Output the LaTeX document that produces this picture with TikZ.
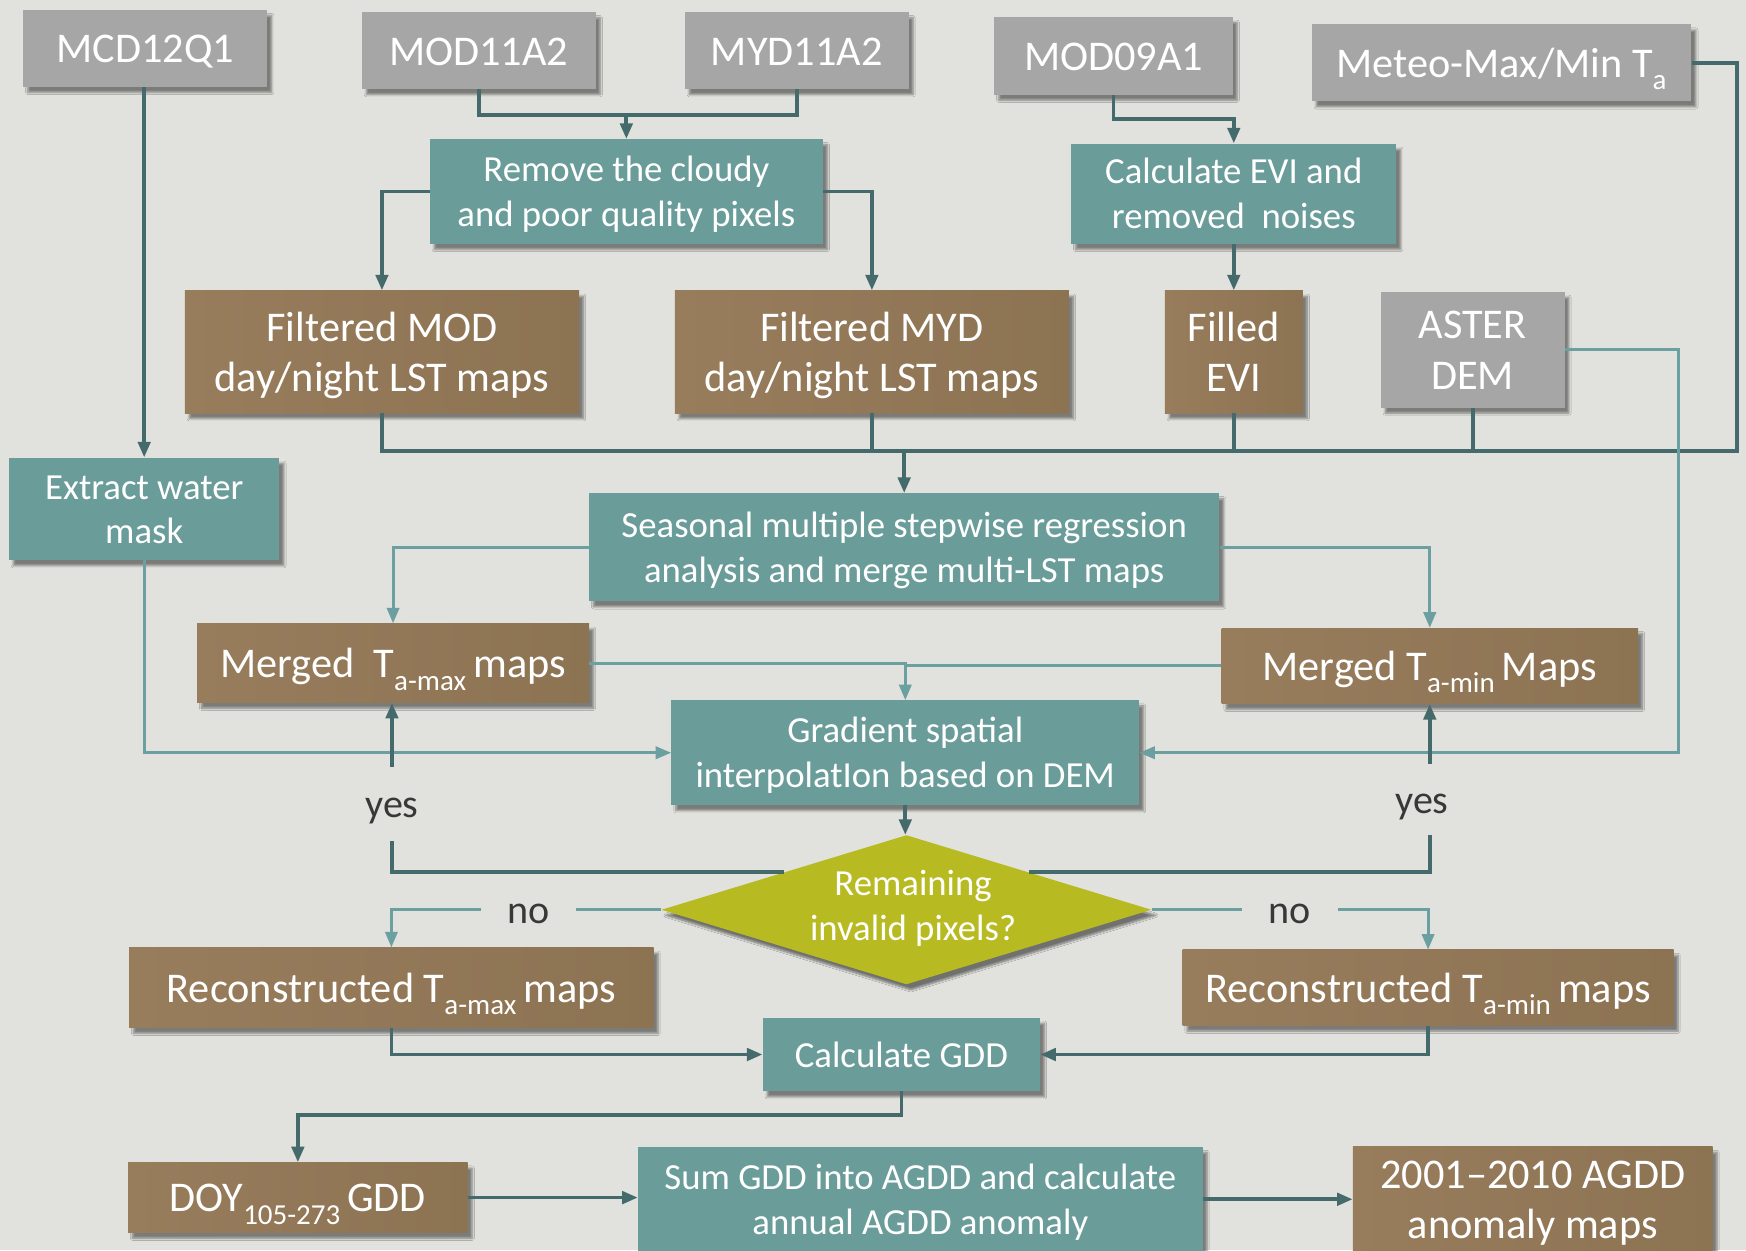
\documentclass[tikz,border=0pt]{standalone}
\usepackage{fontspec}
\setmainfont{Carlito}
\usetikzlibrary{shapes.geometric,arrows.meta,shadows.blur}
\definecolor{bgc}{HTML}{E1E2DD}
\definecolor{grayc}{HTML}{A6A6A6}
\definecolor{tealc}{HTML}{6A9D9A}
\definecolor{brownc}{HTML}{8C7352}
\definecolor{brownL}{HTML}{987D5D}
\definecolor{olivec}{HTML}{B8BA22}
\definecolor{dkc}{HTML}{456A6B}
\definecolor{ltc}{HTML}{6C9F9F}
\definecolor{lblc}{HTML}{383838}
\newcommand{\tsub}[1]{\raisebox{-0.3em}[0pt][0pt]{\fontsize{26}{26}\selectfont #1}}
\newcommand{\fs}{\rule{0pt}{0.98em}}
\begin{document}
\begin{tikzpicture}[x=1pt,y=-1pt,
  wh/.style 2 args={minimum width=#1pt, minimum height=#2pt},
  txt/.style={inner sep=0pt, align=center,
    execute at begin node={\fs},
    execute at end node={\rule[-0.3em]{0pt}{0pt}}},
  base/.style={rectangle, txt, text=white,
    blur shadow={shadow xshift=4pt, shadow yshift=-5pt, shadow opacity=45, shadow blur steps=6}},
  gbox/.style={base, fill=grayc, font=\fontsize{38}{45}\selectfont},
  tbox/.style={base, fill=tealc, font=\fontsize{33}{40}\selectfont},
  bbox/.style={base, left color=brownL, right color=brownc, font=\fontsize{38}{45}\selectfont},
  lbl/.style={txt, text=lblc, font=\fontsize{36}{40}\selectfont},
  dk/.style={draw=dkc, line width=3.4pt},
  lt/.style={draw=ltc, line width=2.8pt},
  arr/.style={-{Triangle[length=14pt,width=11pt]}}
]
\useasboundingbox (0,0) rectangle (1568,1123);
\fill[bgc] (0,0) rectangle (1568,1123);
\clip (0,0) rectangle (1568,1123);

% top row
\node[gbox, wh={219}{69}] (mcd) at (130.5,43.5) {MCD12Q1};
\node[gbox, wh={210}{69}] (mod11) at (430,45.5) {MOD11A2};
\node[gbox, wh={201}{69}] (myd11) at (715.5,45.5) {MYD11A2};
\node[gbox, wh={214}{70}] (mod09) at (1000,50) {MOD09A1};
\node[gbox, wh={341}{69}] (meteo) at (1348.5,56.5) {Meteo-Max/Min T\tsub{a}};

\node[tbox, wh={353}{94}] (remove) at (562.5,172) {\fs Remove the cloudy\\and poor quality pixels};
\node[tbox, wh={292}{90}] (calcevi) at (1108,174) {\fs Calculate EVI and\\removed\ \ noises};

\node[bbox, wh={354}{110}] (fmod) at (343,316) {\fs Filtered MOD\\day/night LST maps};
\node[bbox, wh={354}{110}] (fmyd) at (783,316) {\fs Filtered MYD\\day/night LST maps};
\node[bbox, wh={124}{110}] (fevi) at (1108,316) {\fs Filled\\EVI};
\node[gbox, wh={165}{104}] (aster) at (1322.5,314) {\fs ASTER\\DEM};

\node[tbox, wh={243}{92}] (water) at (129.5,457) {\fs Extract water\\mask};
\node[tbox, wh={566}{97}] (seasonal) at (812,491.5) {\fs Seasonal multiple stepwise regression\\analysis and merge multi-LST maps};

\node[bbox, wh={352}{71}] (mtmax) at (353,595.5) {Merged\ \ T\tsub{a-max}\,maps};
\node[bbox, wh={374}{68}] (mtmin) at (1284,598) {Merged T\tsub{a-min}\,Maps};

\node[tbox, wh={420}{94}] (gradient) at (813,676) {\fs Gradient spatial\\interpolatIon based on DEM};

\node[diamond, fill=olivec, inner sep=0pt, wh={440}{134},
  blur shadow={shadow xshift=4pt, shadow yshift=-5pt, shadow opacity=50, shadow blur steps=6}] (dia) at (814,817) {};
\node[txt, text=white, font=\fontsize{33}{40}\selectfont] (diatext) at (820,813) {\fs Remaining\\invalid pixels?};

\node[bbox, wh={471}{72}] (rtmax) at (351.5,887) {Reconstructed T\tsub{a-max}\,maps};
\node[bbox, wh={441}{68}] (rtmin) at (1282.5,887) {Reconstructed T\tsub{a-min}\,maps};

\node[tbox, wh={249}{66}] (gdd) at (809.5,947) {Calculate GDD};

\node[bbox, wh={305}{63}] (doy) at (267.5,1075.5) {DOY\tsub{105-273}\,GDD};
\node[tbox, wh={507}{94}] (sum) at (826.5,1077) {\fs Sum GDD into AGDD and calculate\\annual AGDD anomaly};
\node[bbox, wh={323}{94}] (agdd) at (1376.5,1077) {\fs 2001--2010 AGDD\\anomaly maps};

% labels
\node[lbl, wh={60}{66}] (yesL) at (352,722) {yes};
\node[lbl, wh={60}{64}] (yesR) at (1284,718) {\hspace*{-14pt}yes};
\node[lbl, wh={85}{30}] (noL) at (474.5,817) {no};
\node[lbl, wh={85}{30}] (noR) at (1158.5,817) {no};

% connectors
\draw[dk,arr] (mcd.south -| water.north) -- (water.north);
\coordinate (j1) at (562.5,103);
\draw[dk] (mod11.south) |- (j1) -| (myd11.south);
\draw[dk,arr] (j1) -- (remove.north);
\draw[dk,arr] (remove.west) -| (fmod.north);
\draw[dk,arr] (remove.east) -| (fmyd.north);
\coordinate (j2) at (1108,107);
\draw[dk,arr] (mod09.south) |- (j2) -- (calcevi.north);
\draw[dk,arr] (calcevi.south) -- (fevi.north);

\coordinate (bus) at (812,405);
\coordinate (busR) at (1560,405);
\draw[dk] (fmod.south) |- (busR) |- (meteo.east);
\draw[dk] (fmyd.south) -- (fmyd.south |- bus);
\draw[dk] (fevi.south) -- (fevi.south |- bus);
\draw[dk] (aster.south) -- (aster.south |- bus);
\draw[dk,arr] (bus) -- (seasonal.north);

\draw[lt,arr] (seasonal.west) -| (mtmax.north);
\draw[lt,arr] (seasonal.east) -| (mtmin.north);
\draw[lt,arr] (mtmax.east) -| (gradient.north);
\draw[lt] (mtmin.west) -- (mtmin.west -| gradient.north);
\draw[lt,arr] (water.south) |- (gradient.west);
\coordinate (ar) at (1507,314);
\draw[lt,arr] (aster.east) -- (ar) |- (gradient.east);

\draw[dk,arr] (gradient.south) -- (gradient.south |- dia.north);
\draw[dk] (dia.north west) -| (yesL.south);
\draw[dk,arr] (yesL.north) -- (yesL.north |- mtmax.south);
\draw[dk] (dia.north east) -| (yesR.south);
\draw[dk,arr] (yesR.north) -- (mtmin.south);
\draw[lt] (dia.west) -- (noL.east);
\draw[lt,arr] (noL.west) -| (rtmax.north);
\draw[lt] (dia.east) -- (noR.west);
\draw[lt,arr] (noR.east) -| (rtmin.north);

\draw[dk,arr] (rtmax.south) |- (gdd.west);
\draw[dk,arr] (rtmin.south) |- (gdd.east);
\draw[dk,arr] (gdd.south) -- ++(0,21) -| (doy.north);
\draw[dk,arr] (doy.east) -- (doy.east -| sum.west);
\draw[dk,arr] (sum.east) -- (agdd.west);
\end{tikzpicture}
\end{document}
